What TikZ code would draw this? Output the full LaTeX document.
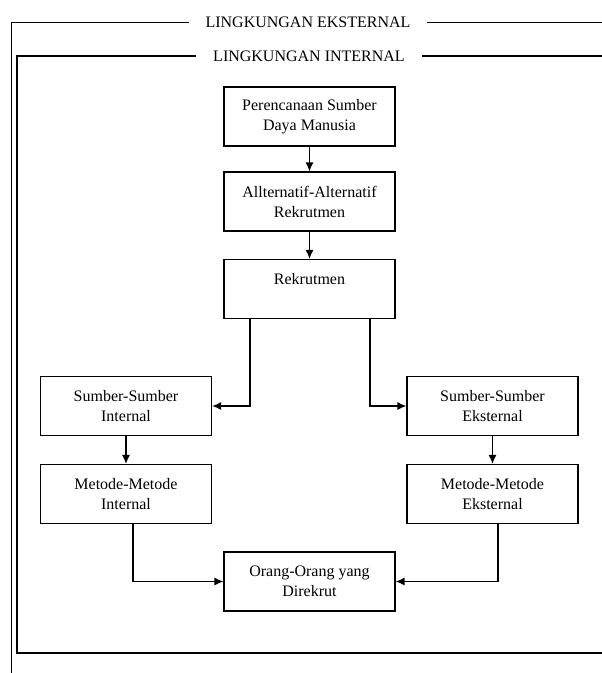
\documentclass[tikz,border=0pt]{standalone}
\usepackage{fontspec}
\setmainfont{Liberation Serif}
\usetikzlibrary{arrows.meta}
\begin{document}
\begin{tikzpicture}[x=1pt, y=-1pt,
        kotak/.style={draw, line width=1.1pt, minimum width=171pt, minimum height=59pt, align=center, inner sep=0pt, font=\fontsize{16}{20}\selectfont},
        label/.style={fill=white, inner xsep=17pt, inner ysep=1pt, font=\fontsize{16}{20}\selectfont},
        panah/.style={-{Latex[length=9pt, width=8pt]}, line width=1.4pt}]
            \useasboundingbox (0,0) rectangle (602,673);
            \draw[line width=1pt] (11,673) -- (11,22) -- (602,22);
            \node[label] (eks) at (308,22) {LINGKUNGAN EKSTERNAL};
            \draw[line width=1.3pt] (602,56) -| (17,653) -- (602,653);
            \node[label] (int) at (309,56) {LINGKUNGAN INTERNAL};
            \node[kotak] (per) at (309.5,116.5) {Perencanaan Sumber\\Daya Manusia};
            \node[kotak] (alt) at (309.5,201.5) {Allternatif-Alternatif\\Rekrutmen};
            \node[kotak] (rek) at (309.5,289) {Rekrutmen\\\mbox{}};
            \node[kotak] (si) at (126,406) {Sumber-Sumber\\Internal};
            \node[kotak] (mi) at (126,494) {Metode-Metode\\Internal};
            \node[kotak] (se) at (492.5,406) {Sumber-Sumber\\Eksternal};
            \node[kotak] (me) at (492.5,494) {Metode-Metode\\Eksternal};
            \node[kotak] (org) at (309.5,581.5) {Orang-Orang yang\\Direkrut};
            \draw[panah] (per) -- (alt);
            \draw[panah] (alt) -- (rek);
            \draw[panah] ([xshift=-59.5pt]rek.south) |- (si.east);
            \draw[panah] ([xshift=60.5pt]rek.south) |- (se.west);
            \draw[panah] (si) -- (mi);
            \draw[panah] (se) -- (me);
            \draw[panah] ([xshift=7pt]mi.south) |- (org.west);
            \draw[panah] ([xshift=5.5pt]me.south) |- (org.east);
        \end{tikzpicture}
\end{document}
